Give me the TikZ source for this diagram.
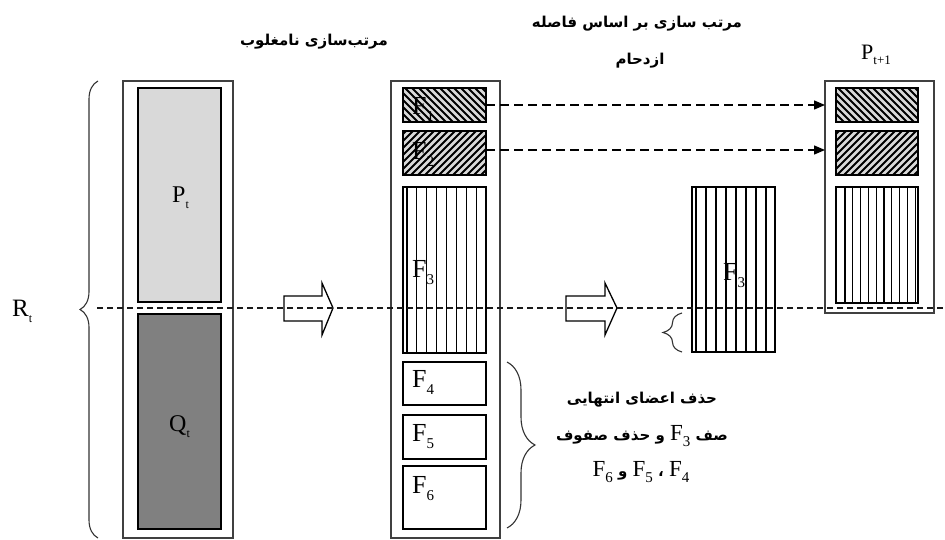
\documentclass[tikz,border=0pt]{standalone}
\usepackage{fontspec}
\setmainfont{Liberation Serif}
\newfontfamily\arabicfont[Script=Arabic]{DejaVu Sans}
\newfontfamily\latinserif{Liberation Serif}
\TeXXeTstate=1
\usetikzlibrary{decorations.pathreplacing,arrows.meta}
\newcommand{\Sub}[3]{\raisebox{-#1}{\fontsize{#2}{#2}\selectfont #3}}
\newcommand{\LF}[1]{{\latinserif\mdseries\fontsize{23}{26}\selectfont F\Sub{6pt}{15}{#1}}}
\tikzset{
  colbox/.style={draw=black!75, line width=1.3pt, anchor=north west, inner sep=0pt, outer sep=0pt},
  inbox/.style={draw=black, line width=1.4pt, anchor=north west, inner sep=0pt, outer sep=0pt},
  rim/.style={draw=black, line width=1.4pt},
  lbl/.style={inner sep=0pt, anchor=base west, font=\fontsize{26}{30}\selectfont},
  lblp/.style={inner sep=0pt, anchor=base west, font=\fontsize{24}{28}\selectfont},
  ar/.style={inner sep=0pt, font=\arabicfont\bfseries\fontsize{15}{18}\selectfont},
  hatch/.style={line width=1.8pt},
  vline/.style={line width=1.2pt},
  dashline/.style={dash pattern=on 6pt off 4pt, line width=1.1pt, black!90},
  dasharrow/.style={dash pattern=on 9pt off 5pt, line width=1.4pt, -{Triangle[length=11pt,width=9pt]}},
  hollow/.style={draw, line width=1.3pt},
  brc/.style={decorate, decoration={brace, amplitude=#1}, line width=1.1pt, black!80},
}
\begin{document}
\begin{tikzpicture}[x=1pt,y=-1pt]
\useasboundingbox (0,0) rectangle (945,540);

% ---------- left column ----------
\node[colbox, minimum width=110pt, minimum height=457pt] (colL) at (123,81) {};
\node[inbox, fill=black!15, minimum width=83pt, minimum height=214pt] (Pt) at (138,88) {};
\node[inbox, fill=black!50, minimum width=83pt, minimum height=215pt] (Qt) at (138,314) {};
\node[lblp] (PtL) at (172,203) {P\Sub{6pt}{12}{t}};
\node[lblp] (QtL) at (169,431) {Q\Sub{6pt}{12}{t}};
\node[inner sep=0pt, anchor=base west, font=\fontsize{25}{30}\selectfont] (Rt) at (12,316) {R\Sub{6pt}{12}{t}};
\draw[brc=18pt] (98,538) -- (98,81);

% ---------- titles ----------
\node[ar] (t1) at (314,42) {\beginR مرتب‌سازی نامغلوب\endR};
\node[ar] (t2a) at (637,24) {\beginR مرتب سازی بر اساس فاصله\endR};
\node[ar] (t2b) at (640,61) {\beginR ازدحام\endR};
\node[inner sep=0pt, anchor=base west, font=\fontsize{22}{26}\selectfont] (Pt1) at (861,60) {P\Sub{5pt}{13}{t+1}};

% ---------- hollow arrows ----------
\draw[hollow] (284,296) -- (322,296) -- (322,283) -- (333,308) -- (322,335) -- (322,321) -- (284,321) -- cycle;
\draw[hollow] (566,296) -- (605,296) -- (605,283) -- (617,308) -- (605,335) -- (605,321) -- (566,321) -- cycle;

% ---------- middle column ----------
\node[colbox, minimum width=109pt, minimum height=457pt] (colM) at (391,81) {};
\node[inbox, fill=black!15, minimum width=83pt, minimum height=34pt] (F1) at (403,88) {};
\node[lbl] (F1L) at (412,115) {F\Sub{7pt}{15}{1}};
\begin{scope}
  \clip (F1.north west) rectangle (F1.south east);
  \foreach \t in {-40,-33,...,88} \draw[hatch] (403+\t,88) -- ++(34,34);
\end{scope}
\draw[rim] (F1.north west) rectangle (F1.south east);

\node[inbox, fill=black!15, minimum width=83pt, minimum height=44pt] (F2) at (403,131) {};
\node[lbl] (F2L) at (412,160) {F\Sub{7pt}{15}{2}};
\begin{scope}
  \clip (F2.north west) rectangle (F2.south east);
  \foreach \t in {-48,-41,...,88} \draw[hatch] (403+\t,175) -- ++(44,-44);
\end{scope}
\draw[rim] (F2.north west) rectangle (F2.south east);

\node[inbox, minimum width=83pt, minimum height=166pt] (F3) at (403,187) {};
\foreach \xx in {407,416.5,426.5,436.5,446.5,456.5,466.5,476.5} \draw[vline] (\xx,187) -- (\xx,353);
\node[lbl] (F3L) at (412,277) {F\Sub{7pt}{15}{3}};

\node[inbox, minimum width=83pt, minimum height=43pt] (F4) at (403,362) {};
\node[lbl] (F4L) at (412,387) {F\Sub{7pt}{15}{4}};
\node[inbox, minimum width=83pt, minimum height=44pt] (F5) at (403,415) {};
\node[lbl] (F5L) at (412,441) {F\Sub{7pt}{15}{5}};
\node[inbox, minimum width=83pt, minimum height=63pt] (F6) at (403,466) {};
\node[lbl] (F6L) at (412,493) {F\Sub{7pt}{15}{6}};

\draw[brc=28pt] (507,362) -- (507,528);

% ---------- text block ----------
\node[ar] (d1) at (642,400) {\beginR حذف اعضای انتهایی\endR};
\node[ar] (d2) at (642,436) {\beginR صف \beginL\LF{3}\endL{} و حذف صفوف\endR};
\node[ar] (d3) at (641,472) {\beginR \beginL\LF{4}\endL{} ، \beginL\LF{5}\endL{} و \beginL\LF{6}\endL{}\endR};

% ---------- separated F3 ----------
\node[inbox, minimum width=83pt, minimum height=165pt] (S3) at (692,187) {};
\foreach \xx in {696,706,716,726,736,746,756,766} \draw[vline] (\xx,187) -- (\xx,352);
\node[lbl] (S3L) at (723,280) {F\Sub{7pt}{15}{3}};
\draw[brc=19pt] (682,352) -- (682,313);

% ---------- right column ----------
\node[colbox, minimum width=109pt, minimum height=232pt] (colR) at (825,81) {};
\node[inbox, fill=black!15, minimum width=82pt, minimum height=34pt] (G1) at (836,88) {};
\begin{scope}
  \clip (G1.north west) rectangle (G1.south east);
  \foreach \t in {-40,-33,...,88} \draw[hatch] (836+\t,88) -- ++(34,34);
\end{scope}
\draw[rim] (G1.north west) rectangle (G1.south east);
\node[inbox, fill=black!15, minimum width=82pt, minimum height=44pt] (G2) at (836,131) {};
\begin{scope}
  \clip (G2.north west) rectangle (G2.south east);
  \foreach \t in {-48,-41,...,88} \draw[hatch] (836+\t,175) -- ++(44,-44);
\end{scope}
\draw[rim] (G2.north west) rectangle (G2.south east);
\node[inbox, minimum width=82pt, minimum height=116pt] (G3) at (836,187) {};
\foreach \xx in {845,852.8,860.6,868.4,876.2,884,891.8,899.6,907.4,915.2} \draw[vline] (\xx,187) -- (\xx,303);

% ---------- connectors ----------
\draw[dasharrow] (F1.east) -- (F1.east -| colR.west);
\draw[dasharrow] ([yshift=3pt]F2.east) -- ([yshift=3pt]F2.east -| colR.west);

\coordinate (dl) at (97,308);
\coordinate (dr) at (945,308);
\draw[dashline] (dl) -- (dr);
\end{tikzpicture}
\end{document}
